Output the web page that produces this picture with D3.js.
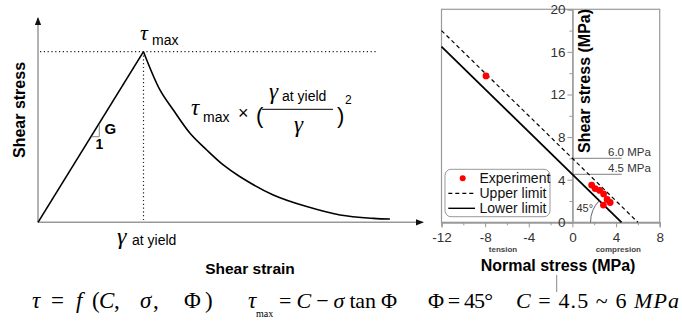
<!DOCTYPE html>
<html>
<head>
<meta charset="utf-8">
<script src="https://cdn.jsdelivr.net/npm/d3@7"></script>
<style>
  body { margin: 0; background: #fff; }
  svg { display: block; }
  .sans { font-family: "Liberation Sans", Arial, sans-serif; }
  .serif { font-family: "Liberation Serif", "Times New Roman", "DejaVu Serif", serif; }
</style>
</head>
<body>
<div id="chart"></div>
<script>
// left sketch: shear stress vs shear strain (normalised: yield strain = 1, tau max = 1)
const strainPts = [0, 1, 1.156, 1.283, 1.441, 1.599, 1.756, 1.915, 2.23, 2.547, 2.863, 3.178, 3.336];
const stressPts = [0, 1, 0.776, 0.658, 0.522, 0.424, 0.336, 0.267, 0.160, 0.092, 0.043, 0.023, 0.019];

// right chart: Mohr-Coulomb limits
const limitNames = ['Upper limit', 'Lower limit'];
const cohesion = [6.0, 4.5];
const limitSigmaEnd = [6, 4.5];
const limitSigmaStart = [-12, -12];
const limitTauStart = [18, 16.5];

const expSigma = [-7.92, 1.76, 2.08, 2.5, 2.86, 3.18, 3.46, 2.84];
const expTau = [13.74, 3.5, 3.17, 2.99, 2.66, 2.14, 1.86, 1.62];

const xTicks = [-12, -8, -4, 0, 4, 8];
const xMinor = [-10, -6, -2, 2, 6];
const yTicks = [0, 4, 8, 12, 16, 20];
const yMinor = [2, 6, 10, 14, 18];

const width = 682, height = 321;
const svg = d3.select('#chart').append('svg')
  .attr('width', width)
  .attr('height', height);

const defs = svg.append('defs');
defs.append('marker')
  .attr('id', 'arrow')
  .attr('viewBox', '0 0 10 10')
  .attr('refX', 9).attr('refY', 5)
  .attr('markerWidth', 8).attr('markerHeight', 8)
  .attr('markerUnits', 'userSpaceOnUse')
  .attr('orient', 'auto')
  .append('path').attr('d', 'M0,1 L10,5 L0,9 Z').attr('fill', '#111');

// ---------- left sketch ----------
const xL = d3.scaleLinear().domain([0, 1]).range([38, 143.5]);
const yL = d3.scaleLinear().domain([0, 1]).range([222.3, 51.7]);

const left = svg.append('g');

// dotted guides
left.append('line')
  .attr('x1', xL(0) + 2).attr('x2', 378)
  .attr('y1', yL(1)).attr('y2', yL(1))
  .attr('stroke', '#222').attr('stroke-width', 1.2)
  .attr('stroke-dasharray', '1.2,2.6');
left.append('line')
  .attr('x1', xL(1)).attr('x2', xL(1))
  .attr('y1', yL(1)).attr('y2', yL(0))
  .attr('stroke', '#222').attr('stroke-width', 1.2)
  .attr('stroke-dasharray', '1.2,2.6');

// axes with arrows
left.append('line')
  .attr('x1', xL(0)).attr('y1', yL(0))
  .attr('x2', xL(3.65)).attr('y2', yL(0))
  .attr('stroke', '#999').attr('stroke-width', 1.5)
  .attr('marker-end', 'url(#arrow)');
left.append('line')
  .attr('x1', xL(0)).attr('y1', yL(0))
  .attr('x2', xL(0)).attr('y2', yL(1.198))
  .attr('stroke', '#999').attr('stroke-width', 1.5)
  .attr('marker-end', 'url(#arrow)');

const pts = strainPts.map((s, i) => [s, stressPts[i]]);
const straight = d3.line().x(d => xL(d[0])).y(d => yL(d[1]));
const smooth = d3.line().x(d => xL(d[0])).y(d => yL(d[1])).curve(d3.curveCatmullRom.alpha(0.5));

left.append('path')
  .attr('d', straight(pts.slice(0, 2)))
  .attr('fill', 'none').attr('stroke', '#000').attr('stroke-width', 1.6);
left.append('path')
  .attr('d', smooth(pts.slice(1)))
  .attr('fill', 'none').attr('stroke', '#000').attr('stroke-width', 1.6);

// slope triangle
left.append('path')
  .attr('d', 'M91.7,136.7 L99.3,136.7 L99.3,124.8')
  .attr('fill', 'none').attr('stroke', '#888').attr('stroke-width', 1);
left.append('text').attr('class', 'sans')
  .attr('x', 104.5).attr('y', 133.5)
  .attr('font-size', 15).attr('font-weight', 'bold').text('G');
left.append('text').attr('class', 'sans')
  .attr('x', 95.5).attr('y', 148.5)
  .attr('font-size', 14).attr('font-weight', 'bold').text('1');

// tau max label
left.append('text').attr('class', 'serif').attr('font-style', 'italic')
  .attr('x', 140).attr('y', 40).attr('font-size', 22).text('τ');
left.append('text').attr('class', 'sans')
  .attr('x', 152).attr('y', 45).attr('font-size', 14).text('max');

// decay formula
left.append('text').attr('class', 'serif').attr('font-style', 'italic')
  .attr('x', 191).attr('y', 115).attr('font-size', 23).text('τ');
left.append('text').attr('class', 'sans')
  .attr('x', 203).attr('y', 121.5).attr('font-size', 14).text('max');
left.append('text').attr('class', 'sans')
  .attr('x', 238).attr('y', 119).attr('font-size', 18).text('×');
left.append('text').attr('class', 'sans')
  .attr('x', 256).attr('y', 123).attr('font-size', 22).text('(');
left.append('text').attr('class', 'serif').attr('font-style', 'italic')
  .attr('x', 269).attr('y', 99).attr('font-size', 23).text('γ');
left.append('text').attr('class', 'sans')
  .attr('x', 282).attr('y', 101).attr('font-size', 14).text('at yield');
left.append('line')
  .attr('x1', 262).attr('x2', 333).attr('y1', 109.3).attr('y2', 109.3)
  .attr('stroke', '#000').attr('stroke-width', 1);
left.append('text').attr('class', 'serif').attr('font-style', 'italic')
  .attr('x', 294).attr('y', 132).attr('font-size', 23).text('γ');
left.append('text').attr('class', 'sans')
  .attr('x', 337).attr('y', 123).attr('font-size', 22).text(')');
left.append('text').attr('class', 'sans')
  .attr('x', 345).attr('y', 104).attr('font-size', 12).text('2');

// gamma at yield
left.append('text').attr('class', 'serif').attr('font-style', 'italic')
  .attr('x', 117).attr('y', 244).attr('font-size', 24).text('γ');
left.append('text').attr('class', 'sans')
  .attr('x', 132).attr('y', 245).attr('font-size', 14).text('at yield');

left.append('text').attr('class', 'sans')
  .attr('transform', 'translate(24.5,110) rotate(-90)')
  .attr('text-anchor', 'middle').attr('font-size', 16).attr('font-weight', 'bold')
  .text('Shear stress');
left.append('text').attr('class', 'sans')
  .attr('x', 250).attr('y', 274)
  .attr('text-anchor', 'middle').attr('font-size', 15.5).attr('font-weight', 'bold')
  .text('Shear strain');

// ---------- right chart ----------
const x = d3.scaleLinear().domain([-12, 8]).range([441.5, 659.7]);
const y = d3.scaleLinear().domain([0, 20]).range([222.3, 9.3]);
const right = svg.append('g');

right.append('rect')
  .attr('x', x(-12)).attr('y', y(20))
  .attr('width', x(8) - x(-12)).attr('height', y(0) - y(20))
  .attr('fill', 'none').attr('stroke', '#999').attr('stroke-width', 1.2);

right.append('g')
  .attr('transform', `translate(0,${y(0)})`)
  .call(d3.axisBottom(x).tickValues(xTicks).tickSize(5).tickPadding(5).tickFormat(d => String(d)));
right.append('g')
  .attr('transform', `translate(0,${y(0)})`)
  .call(d3.axisBottom(x).tickValues(xMinor).tickSize(3).tickFormat(''));
right.append('g')
  .attr('transform', `translate(${x(0)},0)`)
  .call(d3.axisLeft(y).tickValues(yTicks).tickSize(5).tickPadding(2).tickFormat(d => String(d)));
right.append('g')
  .attr('transform', `translate(${x(0)},0)`)
  .call(d3.axisLeft(y).tickValues(yMinor).tickSize(3).tickFormat(''));

right.selectAll('.domain').attr('stroke', '#999').attr('stroke-width', 1.2);
right.selectAll('.tick line').attr('stroke', '#999');
right.selectAll('.tick text')
  .attr('font-family', '"Liberation Sans", Arial, sans-serif')
  .attr('font-size', 13.5).attr('fill', '#333');

// cohesion annotations
cohesion.forEach(c => {
  right.append('line')
    .attr('x1', x(0)).attr('x2', 621.7)
    .attr('y1', y(c)).attr('y2', y(c))
    .attr('stroke', '#999').attr('stroke-width', 1.2);
  right.append('text').attr('class', 'sans')
    .attr('x', 608).attr('y', y(c) - 2.5)
    .attr('font-size', 11.5).attr('fill', '#333')
    .text(c.toFixed(1) + ' MPa');
});

// limit lines
const lineGen = d3.line().x(d => x(d[0])).y(d => y(d[1]));
limitNames.forEach((name, i) => {
  right.append('path')
    .attr('d', lineGen([[limitSigmaStart[i], limitTauStart[i]], [limitSigmaEnd[i], 0]]))
    .attr('fill', 'none').attr('stroke', '#000')
    .attr('stroke-width', i === 0 ? 1.2 : 1.8)
    .attr('stroke-dasharray', i === 0 ? '4,3' : null);
});

// 45 degree arc
const arcR = 31;
const cx = x(4.5), cy = y(0);
const ang = Math.atan2(y(0) - y(4.5), x(4.5) - x(0));
right.append('path')
  .attr('d', `M${cx - arcR},${cy} A${arcR},${arcR} 0 0 1 ${cx - arcR * Math.cos(ang)},${cy - arcR * Math.sin(ang)}`)
  .attr('fill', 'none').attr('stroke', '#555').attr('stroke-width', 0.9);
right.append('text').attr('class', 'sans')
  .attr('x', 576.5).attr('y', 211.5)
  .attr('font-size', 11).attr('fill', '#333').text('45°');

// experiment points
right.selectAll('circle.exp')
  .data(expSigma.map((s, i) => [s, expTau[i]]))
  .enter().append('circle')
  .attr('class', 'exp')
  .attr('cx', d => x(d[0])).attr('cy', d => y(d[1]))
  .attr('r', 3.4).attr('fill', '#ff0000');

// legend
const lg = right.append('g');
lg.append('rect')
  .attr('x', 445).attr('y', 169.3).attr('width', 105).attr('height', 47.4)
  .attr('rx', 6).attr('fill', '#fff').attr('stroke', '#999').attr('stroke-width', 1);
lg.append('circle').attr('cx', 462.7).attr('cy', 178.3).attr('r', 3).attr('fill', '#ff0000');
lg.append('line').attr('x1', 448.3).attr('x2', 475).attr('y1', 193.3).attr('y2', 193.3)
  .attr('stroke', '#000').attr('stroke-width', 1.2).attr('stroke-dasharray', '4,3');
lg.append('line').attr('x1', 448.3).attr('x2', 475).attr('y1', 208.3).attr('y2', 208.3)
  .attr('stroke', '#000').attr('stroke-width', 1.4);
['Experiment'].concat(limitNames).forEach((t, i) => {
  lg.append('text').attr('class', 'sans')
    .attr('x', 479.5).attr('y', 183 + i * 15)
    .attr('font-size', 14).attr('fill', '#111').text(t);
});

right.append('text').attr('class', 'sans')
  .attr('transform', 'translate(590,81) rotate(-90)')
  .attr('text-anchor', 'middle').attr('font-size', 16).attr('font-weight', 'bold')
  .text('Shear stress (MPa)');

right.append('text').attr('class', 'sans')
  .attr('x', 503).attr('y', 251.5).attr('text-anchor', 'middle')
  .attr('font-size', 8).attr('font-weight', 'bold').attr('fill', '#444').text('tension');
right.append('text').attr('class', 'sans')
  .attr('x', 618.3).attr('y', 251.5).attr('text-anchor', 'middle')
  .attr('font-size', 8).attr('font-weight', 'bold').attr('fill', '#444').text('compresion');

right.append('text').attr('class', 'sans')
  .attr('x', 558).attr('y', 271).attr('text-anchor', 'middle')
  .attr('font-size', 16).attr('font-weight', 'bold').text('Normal stress (MPa)');
right.append('line')
  .attr('x1', 556.7).attr('x2', 556.7).attr('y1', 275).attr('y2', 292)
  .attr('stroke', '#888').attr('stroke-width', 1);

// ---------- bottom formulas ----------
// piece-by-piece so the wide equation-editor spacing is kept
const faParts = [
  ['τ', 32, true], ['=', 51, false], ['f', 76, true], ['(', 92, false], ['C', 99, true],
  [',', 114, false], ['σ', 140, true], [',', 153, false], ['Φ', 184, false], [')', 205, false]
];
const fa = svg.append('text').attr('class', 'serif').attr('y', 308).attr('font-size', 23);
faParts.forEach(p => {
  fa.append('tspan').attr('x', p[1]).attr('font-style', p[2] ? 'italic' : null).text(p[0]);
});

svg.append('text').attr('class', 'serif').attr('font-style', 'italic')
  .attr('x', 248).attr('y', 308).attr('font-size', 23).text('τ');
svg.append('text').attr('class', 'serif')
  .attr('x', 256).attr('y', 316.5).attr('font-size', 10).text('max');
const fb = svg.append('text').attr('class', 'serif').attr('x', 279).attr('y', 308).attr('font-size', 22)
  .attr('textLength', 118).attr('lengthAdjust', 'spacing');
fb.append('tspan').text('= ');
fb.append('tspan').attr('font-style', 'italic').text('C');
fb.append('tspan').text(' − ');
fb.append('tspan').attr('font-style', 'italic').text('σ');
fb.append('tspan').text(' tan Φ');

svg.append('text').attr('class', 'serif').attr('x', 428).attr('y', 308).attr('font-size', 22)
  .attr('textLength', 65).attr('lengthAdjust', 'spacing').text('Φ = 45°');
const fc = svg.append('text').attr('class', 'serif').attr('x', 516).attr('y', 308).attr('font-size', 22)
  .attr('textLength', 163).attr('lengthAdjust', 'spacing');
fc.append('tspan').attr('font-style', 'italic').text('C');
fc.append('tspan').text(' = 4.5 ~ 6 ');
fc.append('tspan').attr('font-style', 'italic').text('MPa');
</script>
</body>
</html>
